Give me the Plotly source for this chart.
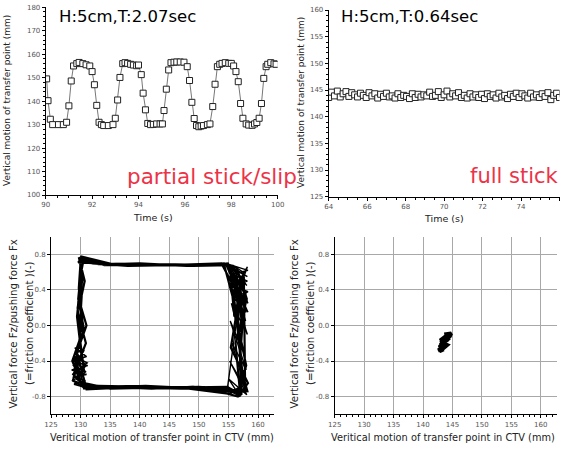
import plotly.graph_objects as go

# ---------------- data ----------------
# Top-left: partial stick/slip time series (H:5cm, T:2.07sec)
t_slip = [90.04, 90.1, 90.2, 90.3, 90.55, 90.76, 90.9, 91.0, 91.1, 91.2, 91.34, 91.44, 91.6, 91.74,
          91.9, 92.0, 92.1, 92.2, 92.3, 92.4, 92.5, 92.7, 92.9, 93.0, 93.1, 93.2, 93.32, 93.42, 93.53,
          93.66, 93.78, 93.92, 94.0, 94.12, 94.2, 94.3, 94.4, 94.52, 94.64, 94.78, 94.93, 95.03, 95.1,
          95.2, 95.3, 95.4, 95.53, 95.65, 95.8, 95.96, 96.1, 96.2, 96.3, 96.4, 96.5, 96.6, 96.7, 96.8,
          96.97, 97.08, 97.2, 97.3, 97.4, 97.5, 97.6, 97.74, 97.89, 98.0, 98.1, 98.2, 98.3, 98.4, 98.5,
          98.64, 98.75, 98.9, 99.0, 99.1, 99.2, 99.3, 99.4, 99.5, 99.57, 99.7, 99.84, 99.93]
z_slip = [149.5, 140.2, 132.3, 130.0, 130.0, 130.0, 131.0, 138.0, 148.6, 155.0, 156.0, 156.5, 156.0, 155.5,
          155.0, 152.6, 147.0, 138.2, 131.0, 130.0, 129.6, 129.6, 130.0, 132.7, 140.5, 150.1, 156.0, 156.4, 156.1,
          155.7, 155.4, 155.1, 155.4, 151.3, 143.4, 136.3, 130.5, 130.0, 130.1, 130.3, 130.3, 130.3, 136.0,
          145.1, 153.3, 156.4, 156.6, 156.7, 156.7, 156.6, 154.7, 148.8, 139.5, 132.6, 129.6, 129.1, 129.4, 129.6,
          130.0, 130.3, 137.7, 147.2, 154.7, 155.7, 156.1, 156.4, 156.1, 156.1, 155.0, 152.6, 148.3, 139.0, 132.7,
          130.3, 129.8, 129.7, 130.3, 130.9, 132.7, 139.0, 149.7, 154.7, 155.7, 156.4, 155.9, 155.7]

# Top-right: full stick time series (H:5cm, T:0.64sec)
t_stick = [64.00, 64.15, 64.30, 64.45, 64.60, 64.75, 64.90, 65.05, 65.20, 65.35, 65.50, 65.65, 65.80, 65.95,
           66.10, 66.25, 66.40, 66.55, 66.70, 66.85, 67.00, 67.15, 67.30, 67.45, 67.60, 67.75, 67.90, 68.05,
           68.20, 68.35, 68.50, 68.65, 68.80, 68.95, 69.10, 69.25, 69.40, 69.55, 69.70, 69.85, 70.00, 70.15,
           70.30, 70.45, 70.60, 70.75, 70.90, 71.05, 71.20, 71.35, 71.50, 71.65, 71.80, 71.95, 72.10, 72.25,
           72.40, 72.55, 72.70, 72.85, 73.00, 73.15, 73.30, 73.45, 73.60, 73.75, 73.90, 74.05, 74.20, 74.35,
           74.50, 74.65, 74.80, 74.95, 75.10, 75.25, 75.40, 75.55, 75.70, 75.85, 76.00]
z_stick = [143.6, 144.6, 143.9, 144.8, 143.7, 144.3, 144.7, 143.8, 144.5, 144.1, 143.7, 144.4, 144.0, 143.6,
           144.5, 143.9, 144.3, 143.5, 144.2, 143.8, 144.4, 143.7, 143.9, 143.5, 144.3, 143.6, 144.0, 143.8,
           143.4, 144.3, 143.6, 144.2, 143.7, 144.1, 143.9, 144.6, 143.8, 144.0, 144.7, 143.6, 144.1, 144.8,
           143.7, 144.3, 143.9, 144.5, 143.6, 144.0, 143.5, 144.3, 143.7, 144.1, 143.6, 144.2, 143.4, 144.3,
           143.8, 144.1, 143.5, 144.4, 143.7, 144.0, 143.4, 144.2, 143.8, 144.4, 143.6, 144.3, 143.9, 143.5,
           144.4, 143.7, 144.1, 143.6, 144.3, 143.8, 144.5, 143.2, 144.0, 144.4, 143.6]

# Bottom-left: hysteresis loop (partial stick/slip)
loop_x = [130.2, 133, 140, 147, 154.6, 156.2, 157.4, 157.0, 157.8, 155.5, 148, 140, 133, 130.6, 129.0, 129.6, 130.3, 129.7, 130.0,
          130.4, 134, 141, 148, 154.2, 155.8, 157.9, 156.8, 157.2, 155.0, 147, 139, 132, 130.2, 128.6, 129.9, 129.5, 130.4, 129.8,
          129.9, 135, 142, 150, 155.0, 157.0, 156.6, 158.0, 156.5, 154.8, 146, 138, 131.5, 129.3, 130.8, 129.2, 130.6, 129.6, 130.3,
          130.6, 132, 138, 145, 153.8, 157.8, 155.8, 157.4, 158.2, 156.0, 149, 142, 134, 130.8, 128.8, 130.2, 129.4, 130.1, 130.5,
          130.0, 136, 143, 151, 154.8, 156.4, 158.1, 156.2, 157.0, 155.4, 150, 143, 135, 130.0, 129.0, 130.6, 129.8, 130.2, 129.9,
          130.3, 134, 140, 149, 155.2, 156.0, 157.6, 157.8, 156.8, 155.2, 147, 141, 133, 130.4, 128.7, 129.6, 130.9, 129.5, 130.1,
          129.6, 133, 139, 146, 152, 154.9, 156.9, 155.4, 158.3, 156.6, 151, 144, 137, 131.0, 129.4, 131.0, 129.9, 130.7, 129.7]
loop_y = [0.74, 0.69, 0.68, 0.68, 0.69, 0.45, 0.05, -0.35, -0.72, -0.73, -0.70, -0.69, -0.68, -0.71, -0.48, -0.25, 0.05, 0.42, 0.72,
          0.76, 0.68, 0.69, 0.67, 0.70, 0.30, 0.25, -0.10, -0.78, -0.70, -0.71, -0.70, -0.69, -0.66, -0.40, -0.15, 0.20, 0.55, 0.73,
          0.75, 0.69, 0.68, 0.69, 0.68, 0.55, 0.00, -0.45, -0.76, -0.69, -0.70, -0.69, -0.70, -0.60, -0.45, -0.30, -0.05, 0.30, 0.77,
          0.72, 0.70, 0.67, 0.68, 0.70, 0.20, 0.40, -0.55, -0.74, -0.75, -0.69, -0.71, -0.69, -0.70, -0.55, -0.35, 0.10, 0.60, 0.74,
          0.78, 0.68, 0.69, 0.68, 0.69, 0.65, 0.30, -0.20, -0.79, -0.72, -0.69, -0.70, -0.71, -0.64, -0.35, -0.52, -0.10, 0.35, 0.76,
          0.73, 0.69, 0.70, 0.67, 0.68, 0.10, 0.55, -0.60, -0.70, -0.77, -0.70, -0.68, -0.70, -0.69, -0.62, -0.42, -0.20, 0.15, 0.75,
          0.71, 0.70, 0.69, 0.69, 0.68, 0.70, 0.35, -0.25, -0.65, -0.80, -0.70, -0.69, -0.70, -0.72, -0.30, 0.00, 0.25, 0.50, 0.77]

# dense right-hand fan of the loop (slip from top to bottom)
fan_x = [154.6, 158.2, 155.2, 158.0, 155.4, 158.3, 155.6, 157.9, 155.8, 158.2, 155.5, 157.6, 155.3, 158.0,
         155.6, 157.8, 155.2, 158.1, 155.0, 157.0, 154.8, 157.5, 155.7, 158.1, 156.0, 158.3, 155.9, 157.7,
         155.5, 158.3, 155.6, 158.2, 155.8, 158.3, 156.0, 158.1, 156.2, 158.0, 155.7, 157.2, 156.4, 157.9,
         155.9, 158.2, 156.3, 157.6]
fan_y = [0.70, 0.55, 0.66, 0.35, 0.60, 0.15, 0.50, 0.05, 0.40, -0.10, 0.25, -0.30, 0.05, -0.50,
         -0.20, -0.70, -0.40, -0.78, -0.60, -0.80, -0.72, 0.60, 0.68, 0.45, 0.62, 0.25, 0.48, 0.10,
         0.68, 0.62, 0.58, 0.50, 0.45, 0.38, 0.32, 0.28, 0.20, 0.15, 0.62, 0.05, 0.55, 0.20,
         0.40, 0.66, 0.30, 0.02]

# dense lower-left part of the loop
left_x = [129.0, 131.0, 128.6, 131.2, 128.5, 131.0, 128.7, 130.8, 128.9, 131.0, 129.2, 130.6, 128.8,
          130.9, 128.6, 130.5, 129.0, 131.1, 128.7, 130.7]
left_y = [-0.25, -0.35, -0.40, -0.45, -0.50, -0.55, -0.58, -0.62, -0.66, -0.70, -0.30, -0.28, -0.45,
          -0.52, -0.62, -0.66, -0.35, -0.42, -0.55, -0.68]

# Bottom-right: full stick cluster
blob_x = [143.6, 144.8, 144.4, 143.4, 144.6, 143.3, 143.0, 144.2, 142.9, 143.9, 142.7, 143.6, 142.6, 143.5,
          142.8, 143.2, 144.7, 144.0, 143.1, 144.1, 143.4, 143.9, 142.9, 144.5, 143.7, 142.8]
blob_y = [-0.10, -0.09, -0.13, -0.14, -0.12, -0.18, -0.20, -0.16, -0.22, -0.20, -0.25, -0.23, -0.28, -0.27,
          -0.29, -0.21, -0.11, -0.15, -0.19, -0.22, -0.26, -0.12, -0.17, -0.14, -0.18, -0.24]

# tick labels
mu_ticks = [0.8, 0.4, 0.0, -0.4, -0.8]
mu_labels = ["0.8", "0.4", "0.0", "-0.4", "-0.8"]

FONT = "DejaVu Sans"
RED = "#ec3347"
W, H = 561, 450


def px(x):
    return x / W


def py(y):
    return 1 - y / H


fig = go.Figure()

fig.add_trace(go.Scatter(x=t_slip, y=z_slip, mode="lines+markers", xaxis="x", yaxis="y",
                         line=dict(color="#777", width=1),
                         marker=dict(symbol="square", size=6, color="white",
                                     line=dict(color="#222", width=1))))
fig.add_trace(go.Scatter(x=t_stick, y=z_stick, mode="lines+markers", xaxis="x2", yaxis="y2",
                         line=dict(color="#777", width=1),
                         marker=dict(symbol="square", size=6, color="white",
                                     line=dict(color="#222", width=1))))
fig.add_trace(go.Scatter(x=loop_x, y=loop_y, mode="lines", xaxis="x3", yaxis="y3",
                         line=dict(color="black", width=2.2)))
fig.add_trace(go.Scatter(x=fan_x, y=fan_y, mode="lines", xaxis="x3", yaxis="y3",
                         line=dict(color="black", width=1.4)))
fig.add_trace(go.Scatter(x=left_x, y=left_y, mode="lines", xaxis="x3", yaxis="y3",
                         line=dict(color="black", width=1.6)))
fig.add_trace(go.Scatter(x=blob_x, y=blob_y, mode="lines", xaxis="x4", yaxis="y4",
                         line=dict(color="black", width=4)))

tickfont = dict(family=FONT, size=7, color="#555")
common_top = dict(showline=True, linecolor="black", linewidth=1, ticks="outside", ticklen=3,
                  tickcolor="black", showgrid=False, zeroline=False, tickfont=tickfont,
                  automargin=False,
                  minor=dict(ticks="outside", ticklen=2, tickcolor="black"))
common_bot = dict(showline=True, linecolor="black", linewidth=1, ticks="outside", ticklen=3,
                  tickcolor="black", showgrid=True, gridcolor="#a8a8a8", gridwidth=1,
                  automargin=False,
                  zeroline=False, tickfont=dict(family=FONT, size=7, color="#555"))

fig.update_layout(
    width=W, height=H, margin=dict(l=0, r=0, t=0, b=0, autoexpand=False),
    paper_bgcolor="white", plot_bgcolor="white", showlegend=False,
    font=dict(family=FONT, color="black"),
    xaxis=dict(domain=[px(45.7), px(277.7)], range=[90, 100], dtick=2, anchor="y", **common_top),
    yaxis=dict(domain=[py(195), py(7.3)], range=[100, 180], dtick=10, anchor="x", **common_top),
    xaxis2=dict(domain=[px(328.7), px(559.5)], range=[64, 76], dtick=2, anchor="y2", **common_top),
    yaxis2=dict(domain=[py(196.7), py(10)], range=[125, 160], dtick=5, anchor="x2", **common_top),
    xaxis3=dict(domain=[px(51), px(274)], range=[125, 162.7], tick0=125, dtick=5, anchor="y3",
                minor=dict(ticks="outside", ticklen=2, tickcolor="black", showgrid=False), **common_bot),
    yaxis3=dict(domain=[py(414.3), py(236.7)], range=[-1, 1], tickvals=mu_ticks, ticktext=mu_labels,
                anchor="x3", **common_bot),
    xaxis4=dict(domain=[px(334.7), px(556.7)], range=[125, 162.7], tick0=125, dtick=5, anchor="y4",
                minor=dict(ticks="outside", ticklen=2, tickcolor="black", showgrid=False), **common_bot),
    yaxis4=dict(domain=[py(414.3), py(236.7)], range=[-1, 1], tickvals=mu_ticks, ticktext=mu_labels,
                anchor="x4", **common_bot),
)

ann = []


def text(x, y, s, size, color="black", angle=0):
    ann.append(dict(x=px(x), y=py(y), xref="paper", yref="paper", text=s, showarrow=False,
                    font=dict(family=FONT, size=size, color=color), textangle=angle,
                    xanchor="center", yanchor="middle"))


# titles
text(127, 16, "H:5cm,T:2.07sec", 16.5)
text(409, 16, "H:5cm,T:0.64sec", 16.5)
text(212, 176, "partial stick/slip", 21.5, RED)
text(514, 176, "full stick", 21, RED)

# axis titles
text(7, 101, "Vertical motion of transfer point (mm)", 9, "#222", -90)
text(301, 103, "Vertical motion of transfer point (mm)", 9, "#222", -90)
text(153, 217, "Time (s)", 9.5, "#222")
text(444, 218, "Time (s)", 9.5, "#222")
text(12.5, 324, "Vertical force Fz/pushing force Fx", 10.2, "#222", -90)
text(29, 324, "(=friction coefficient )(-)", 10.2, "#222", -90)
text(293.5, 324, "Vertical force Fz/pushing force Fx", 10.2, "#222", -90)
text(310, 324, "(=friction coefficient )(-)", 10.2, "#222", -90)
text(162, 437, "Veritical motion of transfer point in CTV (mm)", 9.8, "#222")
text(443, 437, "Veritical motion of transfer point in CTV (mm)", 9.8, "#222")

fig.update_layout(annotations=ann)

fig.write_html("out.html", config={"displayModeBar": False},
               post_script="document.body.style.margin='0';document.body.style.padding='0';")
